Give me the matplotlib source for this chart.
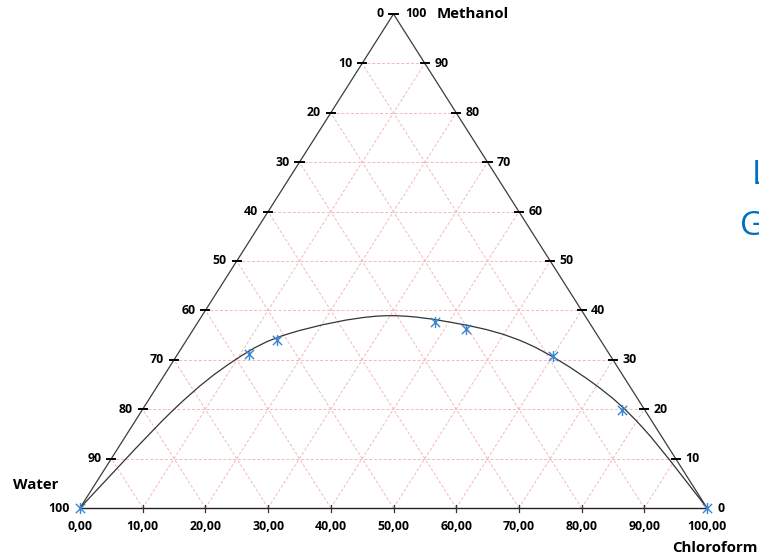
#Ternary diagram Water / Methanol / Chloroform - binodal curve
import numpy as np
import matplotlib.pyplot as plt
from matplotlib.path import Path
from matplotlib.patches import PathPatch

################ data ################
# measured points: x = position on bottom axis, methanol in %
pts_x = [0, 26.95, 31.4, 56.6, 61.5, 75.5, 86.5, 100]
pts_m = [0, 31.2, 34.0, 37.6, 36.2, 30.8, 19.9, 0]
# binodal curve
curve_x = [0, 14.88, 24.72, 33.49, 47.85, 60.61, 71.24, 81.87, 89.84, 100]
curve_m = [0, 19.84, 29.96, 35.36, 38.87, 37.25, 33.34, 25.24, 16.13, 0]
grid_levels = [10, 20, 30, 40, 50, 60, 70, 80, 90]
bottom_labels = ['0,00', '10,00', '20,00', '30,00', '40,00', '50,00',
                 '60,00', '70,00', '80,00', '90,00', '100,00']
######################################

plt.rcParams['font.family'] = ['Open Sans', 'DejaVu Sans']

fig = plt.figure(figsize=(7.59, 5.58), dpi=100)
ax = fig.add_axes([0, 0, 1, 1])
ax.set_xlim(-80/6.27, (759-80)/6.27)
ax.set_ylim(-50/4.94, 508/4.94)
ax.axis('off')

grid_col = '#F2B8B8'
# horizontal grid lines
for k in grid_levels:
    ax.plot([k/2, 100-k/2], [k, k], ls=(0, (3, 2)), color=grid_col, lw=0.7, zorder=1)
# diagonal grid lines
for k in grid_levels:
    ax.plot([k, k/2], [0, k], ls=(0, (3, 2)), color=grid_col, lw=0.7, zorder=1)
    ax.plot([k, (100+k)/2], [0, 100-k], ls=(0, (3, 2)), color=grid_col, lw=0.7, zorder=1)

# triangle
ax.plot([0, 50, 100], [0, 100, 0], color='#3c3c3c', lw=0.9, zorder=2)
ax.plot([0, 100], [0, 0], color='#222222', lw=1.0, zorder=2)

# ticks on the edges (left labels = 100 - methanol)
for k in [0] + grid_levels:
    m = 100 - k
    ax.plot([m/2-0.65, m/2+0.65], [m, m], color='black', lw=1.4, zorder=3)
for k in grid_levels:
    ax.plot([100-k/2-0.65, 100-k/2+0.65], [k, k], color='black', lw=1.4, zorder=3)
for k in grid_levels:
    ax.plot([k, k], [0.6, -0.8], color='#333333', lw=0.9, zorder=3)

# tick labels
fs = 8.9
for k in grid_levels:
    m = 100 - k
    ax.text(m/2 - 1.6, m, str(k), ha='right', va='center', fontsize=fs, fontweight='bold')
    ax.text(100-k/2 + 1.5, k, str(k), ha='left', va='center', fontsize=fs, fontweight='bold')
ax.text(48.4, 100, '0', ha='right', va='center', fontsize=fs, fontweight='bold')
ax.text(51.8, 100, '100', ha='left', va='center', fontsize=fs, fontweight='bold')
ax.text(-1.6, 0, '100', ha='right', va='center', fontsize=fs, fontweight='bold')
ax.text(101.6, 0, '0', ha='left', va='center', fontsize=fs, fontweight='bold')
for i, lab in enumerate(bottom_labels):
    ax.text(i*10, -3.7, lab, ha='center', va='center', fontsize=fs, fontweight='bold')

# component names
ax.text(56.9, 100, 'Methanol', ha='left', va='center', fontsize=10.8, fontweight='bold')
ax.text(-10.7, 4.7, 'Water', ha='left', va='center', fontsize=10.8, fontweight='bold')
ax.text(94.4, -8.1, 'Chloroform', ha='left', va='center', fontsize=10.8, fontweight='bold')

# title cut off at the right border
ax.text((752-80)/6.27, (508-176)/4.94, 'L', ha='left', va='center', fontsize=24, color='#0070C0')
ax.text((740-80)/6.27, (508-227)/4.94, 'G', ha='left', va='center', fontsize=24, color='#0070C0')

# smooth curve (Catmull-Rom segments as cubic Bezier path)
P = np.column_stack([curve_x, curve_m])
Pe = np.vstack([P[0], P, P[-1]])
verts = [P[0]]
codes = [Path.MOVETO]
for i in range(1, len(Pe) - 2):
    p0, p1, p2, p3 = Pe[i-1], Pe[i], Pe[i+1], Pe[i+2]
    verts += [p1 + (p2 - p0)/6, p2 - (p3 - p1)/6, p2]
    codes += [Path.CURVE4]*3
ax.add_patch(PathPatch(Path(verts, codes), fill=False, edgecolor='#333333', lw=0.9, zorder=4))

# measured points, Excel-like star marker (x plus vertical bar)
star = Path([(-1, -1), (1, 1), (-1, 1), (1, -1), (0, -1.2), (0, 1.2)],
            [Path.MOVETO, Path.LINETO, Path.MOVETO, Path.LINETO, Path.MOVETO, Path.LINETO])
ax.plot(pts_x, pts_m, ls='none', marker=star, ms=8, mew=1.0, color='#3A86D4', zorder=5)

plt.savefig('out.png', dpi=100)
